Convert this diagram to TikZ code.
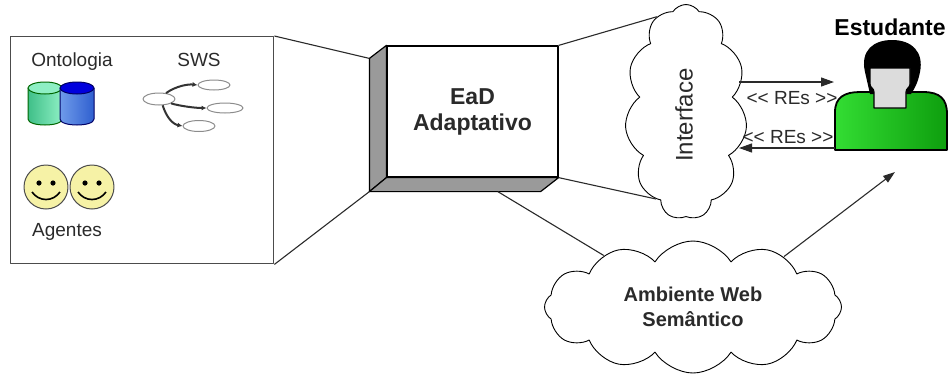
\documentclass[tikz,border=0pt]{standalone}
\usepackage{fontspec}
\setmainfont{Liberation Sans}
\usetikzlibrary{shapes.symbols,shapes.geometric,arrows.meta,calc}

\definecolor{sidegray}{HTML}{9A9A9A}
\definecolor{inkgray}{HTML}{2A2A2A}
\definecolor{faceyellow}{HTML}{F6F2A6}
\definecolor{mintlight}{HTML}{8EEFC4}
\definecolor{mintdark}{HTML}{3FBF88}
\definecolor{bluelight}{HTML}{6F9BEA}
\definecolor{bluedark}{HTML}{2F5FCF}
\definecolor{bluetop}{HTML}{0000DD}
\definecolor{shirtlight}{HTML}{33DD33}
\definecolor{shirtdark}{HTML}{0E9E0E}
\definecolor{skin}{HTML}{DCDCDC}

\begin{document}
\begin{tikzpicture}[x=1pt,y=-1pt,line join=round,
  edge/.style={draw=inkgray,line width=1.1pt},
  arr/.style={edge,-{Triangle[length=13pt,width=9pt]}},
  cloudbox/.style={cloud,draw=black,line width=0.9pt,fill=white,
    cloud ignores aspect,inner sep=0pt},
  lbl/.style={font=\fontsize{19}{22}\selectfont,text=inkgray},
  boldlbl/.style={font=\bfseries\fontsize{23}{26}\selectfont,text=inkgray,align=center},
  rel/.style={font=\fontsize{19}{22}\selectfont,text=inkgray},
  swsnode/.style={draw=black!45,fill=white,line width=1pt},
  swsarr/.style={draw=black!80,line width=2pt,-{Latex[length=5pt,width=5pt]}},
  smiley/.pic={
    \draw[fill=faceyellow,draw=black!70,line width=1pt] (0,0) circle[radius=22];
    \fill (-7,-4) circle[radius=2.6];
    \fill (7,-4) circle[radius=2.6];
    \draw[line width=1.6pt] (-14,5) .. controls (-7,15) and (7,15) .. (14,5);
  }]
\useasboundingbox (0,0) rectangle (948,376);

% ---------- left panel: ontologies, services, agents ----------
\node (panel) [draw=black!70,line width=1.4pt,minimum width=263pt,
  minimum height=227pt,anchor=north west,inner sep=0pt] at (10,36) {};

\node (onto) [lbl] at (72,62) {Ontologia};
\node (sws) [lbl] at (199,60) {SWS};
\node (agentes) [lbl] at (67,232) {Agentes};

% two database cylinders
\shade[left color=mintdark,right color=mintlight,draw=black!60!green,line width=1pt]
  (28,88) -- (28,119) .. controls (28,127) and (62,127) .. (62,119) -- (62,88) -- cycle;
\draw[fill=mintlight,draw=black!60!green,line width=1pt] (45,88) ellipse[x radius=17,y radius=6];
\shade[left color=bluelight,right color=bluedark,draw=blue!40!black,line width=1pt]
  (60,88) -- (60,119) .. controls (60,127) and (94,127) .. (94,119) -- (94,88) -- cycle;
\draw[fill=bluetop,draw=blue!40!black,line width=1pt] (77,88) ellipse[x radius=17,y radius=6];

% small service graph
\node (sc) [swsnode,ellipse,minimum width=32pt,minimum height=12pt,inner sep=0pt] at (159,99) {};
\node (s1) [swsnode,ellipse,minimum width=32pt,minimum height=10pt,inner sep=0pt] at (214,85) {};
\node (s2) [swsnode,ellipse,minimum width=36pt,minimum height=10pt,inner sep=0pt] at (225,108) {};
\node (s3) [swsnode,ellipse,minimum width=32pt,minimum height=11pt,inner sep=0pt] at (199,126) {};
\draw[swsarr] (sc.40) .. controls (176,86) and (188,84) .. (s1.west);
\draw[swsarr] (sc.-20) .. controls (180,106) and (195,108) .. (s2.west);
\draw[swsarr] (sc.-60) .. controls (166,116) and (172,124) .. (s3.west);

% agents
\pic at (46,187) {smiley};
\pic at (92,187) {smiley};

% ---------- central block ----------
\node (ead) [draw=black,line width=1.2pt,fill=white,minimum width=171pt,
  minimum height=131pt,inner sep=0pt,boldlbl] at (472.5,111.5) {EaD\\Adaptativo};
\coordinate (dtl) at ($(ead.north west)+(-17,13)$);
\coordinate (dbl) at ($(ead.south west)+(-17,14)$);
\coordinate (dbr) at ($(ead.south east)+(-18,14)$);
\filldraw[fill=sidegray,draw=black,line width=1.2pt]
  (ead.north west) -- (dtl) -- (dbl) -- (ead.south west) -- cycle;
\filldraw[fill=sidegray,draw=black,line width=1.2pt]
  (dbl) -- (dbr) -- (ead.south east) -- (ead.south west) -- cycle;

\draw[edge] (panel.north east) -- (dtl);
\draw[edge] (panel.south east) -- (dbl);

% ---------- interface cloud ----------
\node (iface) [cloudbox,cloud puffs=11,cloud puff arc=115,
  minimum width=122pt,minimum height=215pt] at (686,112) {};
\node (ifacetxt) [rotate=90,font=\fontsize{24}{27}\selectfont,text=inkgray] at (684,115) {Interface};
\draw[edge] (ead.north east) -- (iface.107);
\draw[edge] (ead.south east) -- (iface.251);

% ---------- semantic web cloud ----------
\node (amb) [cloudbox,cloud puffs=12,cloud puff arc=115,
  minimum width=297pt,minimum height=132pt,
  font=\bfseries\fontsize{20}{25}\selectfont,text=inkgray,align=center]
  at (693,307) {Ambiente Web\\Semântico};
\coordinate (dbot) at ($(dbl)!0.75!(dbr)$);
\draw[edge] (dbot) -- (amb.150);

% ---------- student ----------
\node (estud) [font=\bfseries\fontsize{23}{26}\selectfont,text=black] at (890,27) {Estudante};
\shade[left color=shirtlight,right color=shirtdark,draw=black,line width=1.8pt]
  (835,150) -- (835,112) .. controls (835,97) and (845,92) .. (860,92)
  -- (923,92) .. controls (940,92) and (947,99) .. (947,114) -- (947,150) -- cycle;
\fill[black] (865,72) .. controls (860,50) and (874,40) .. (892,40)
  .. controls (912,40) and (924,52) .. (920,72)
  .. controls (918,82) and (915,88) .. (911,94) -- (870,94) -- cycle;
\draw[fill=skin,draw=black,line width=1.2pt]
  (870,68) -- (910,68) -- (910,84) .. controls (910,88) and (906,88) .. (906,92)
  -- (906,108) -- (874,108) -- (874,92) .. controls (874,88) and (870,88) .. (870,84) -- cycle;

% ---------- request/response arrows ----------
\coordinate (r1a) at (739,82);
\coordinate (r1b) at (834,82);
\coordinate (r2a) at (835,148);
\coordinate (r2b) at (739,148);
\draw[arr] (r1a) -- (r1b);
\draw[arr] (r2a) -- (r2b);
\node (re1) [rel] at (792,98) {<\kern0pt< REs >\kern0pt>};
\node (re2) [rel] at (788,137) {<\kern0pt< REs >\kern0pt>};

\coordinate (stin) at (895,172);
\draw[edge,-{Triangle[length=12pt,width=8pt]}] (amb.29) -- (stin);
\end{tikzpicture}
\end{document}
